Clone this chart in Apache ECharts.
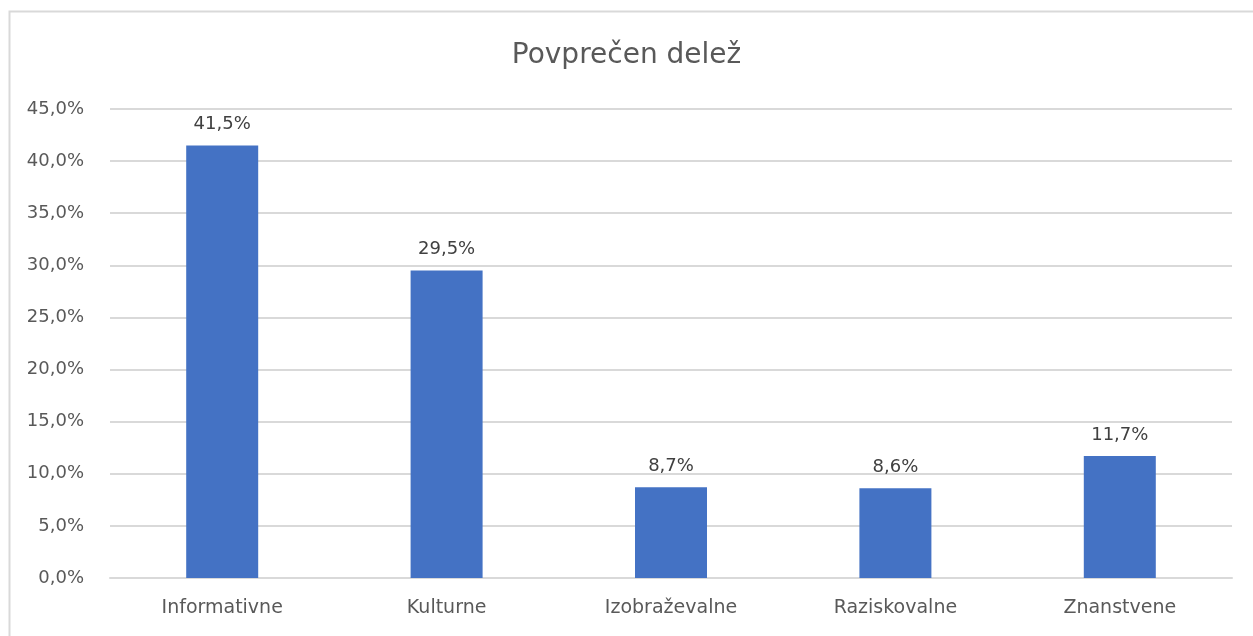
<!DOCTYPE html>
<html>
<head>
    <meta charset="utf-8"/>
    <title>Povprečen delež</title>
    <script src="https://cdn.jsdelivr.net/npm/echarts@6/dist/echarts.min.js"></script>
    <style>
        html, body { margin: 0; padding: 0; background: #fff; }
        #main { width: 1253px; height: 636px; }
    </style>
</head>
<body>
<div id="main"></div>
<script type="text/javascript">
    // podatki
    var categories = ['Informativne', 'Kulturne', 'Izobraževalne', 'Raziskovalne', 'Znanstvene'];
    var shares = [41.5, 29.5, 8.7, 8.6, 11.7];

    var myChart = echarts.init(document.getElementById('main'));

    function pct(v) {
        return v.toFixed(1).replace('.', ',') + '%';
    }

    var font = 'DejaVu Sans';

    var option = {
        backgroundColor: '#fff',
        textStyle: { fontFamily: font },
        title: {
            text: 'Povprečen delež',
            left: 'center',
            top: 37,
            textStyle: { fontFamily: font, fontSize: 28, fontWeight: 'normal', color: '#595959' }
        },
        graphic: [{
            type: 'rect',
            shape: { x: 9.5, y: 11.5, width: 1300, height: 700 },
            style: { fill: 'none', stroke: '#d9d9d9', lineWidth: 2 },
            silent: true
        }],
        grid: { left: 110, right: 21, top: 109, bottom: 58 },
        xAxis: {
            type: 'category',
            data: categories,
            axisLine: { lineStyle: { color: '#d9d9d9', width: 2 } },
            axisTick: { show: false },
            axisLabel: { color: '#595959', fontSize: 19, margin: 21 }
        },
        yAxis: {
            type: 'value',
            min: 0,
            max: 45,
            interval: 5,
            axisLine: { show: false },
            axisTick: { show: false },
            splitLine: { lineStyle: { color: '#d9d9d9', width: 2 } },
            axisLabel: {
                color: '#595959', fontSize: 18, margin: 26,
                formatter: function (v) { return pct(v); }
            }
        },
        series: [{
            type: 'bar',
            data: shares,
            barWidth: 72,
            itemStyle: { color: '#4472c4' },
            label: {
                show: true,
                position: 'top',
                distance: 12,
                color: '#404040',
                fontSize: 18,
                formatter: function (p) { return pct(p.value); }
            }
        }]
    };

    myChart.setOption(option);
</script>
</body>
</html>
